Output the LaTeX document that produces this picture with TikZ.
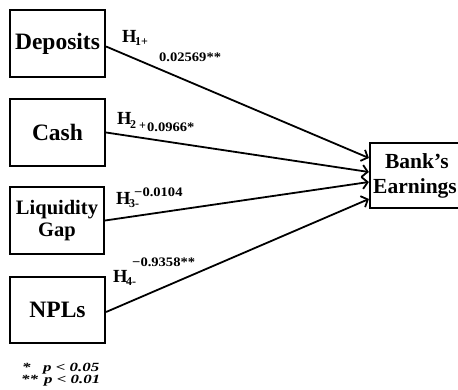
\documentclass[tikz,border=0pt]{standalone}
\usepackage{fontspec}
\setmainfont{Liberation Serif}
\newfontfamily\valfont[FakeStretch=1.12]{Liberation Serif}
\newfontfamily\notefont[FakeStretch=1.35]{Liberation Serif}
\usetikzlibrary{arrows.meta}
\begin{document}
\begin{tikzpicture}[x=1pt,y=-1pt,
 box/.style={draw,line width=2.2pt,minimum width=95pt,minimum height=67pt,inner sep=0pt,align=center,font=\fontsize{23.5}{24}\selectfont\bfseries},
 link/.style={line width=1.8pt,-{Straight Barb[length=5.5pt,width=12pt,line width=1.8pt]}},
 hlab/.style={anchor=base west,inner sep=0pt,font=\fontsize{18.5}{18}\selectfont\bfseries},
 slab/.style={anchor=base west,inner sep=0pt,font=\fontsize{12}{12}\selectfont\bfseries},
 vlab/.style={anchor=base west,inner sep=0pt,font=\valfont\fontsize{13}{13}\selectfont\bfseries},
 note/.style={anchor=base west,inner sep=0pt,font=\notefont\fontsize{12.5}{12.5}\selectfont\bfseries\itshape}]
\useasboundingbox (0,0) rectangle (458,390);
\node[box] (dep) at (57.5,43.5) {Deposits};
\node[box] (cash) at (57.5,132.5) {Cash};
\node[box,minimum width=94pt,font=\fontsize{20.5}{22}\selectfont\bfseries] (liq) at (57,220.5) {Liquidity\\Gap};
\node[box,minimum height=66pt] (npl) at (57.5,310) {NPLs};
\node[box,minimum width=94pt,minimum height=65pt,font=\fontsize{21.5}{26}\selectfont\bfseries] (bank) at (417,175.5) {Bank’s\\[-1pt]\hspace*{-4pt}Earnings};
\coordinate (t1) at ([yshift=17.5pt]bank.west);
\coordinate (t2) at ([yshift=3.5pt]bank.west);
\coordinate (t3) at ([yshift=-6.5pt]bank.west);
\coordinate (t4) at ([yshift=-23.5pt]bank.west);
\draw[link] ([yshift=-3pt]dep.east) -- (t1);
\draw[link] (cash.east) -- (t2);
\draw[link] (liq.east) -- (t3);
\draw[link] ([yshift=-2pt]npl.east) -- (t4);
% labels
\node[hlab] (h1) at (122,43) {H};
\node[slab] (h1s) at (135,46) {1+};
\node[vlab] (v1) at (159,62) {0.02569**};
\node[hlab] (h2) at (117,125) {H};
\node[slab] (h2s) at (130,128.5) {2};
\node[slab] (h2p) at (139,130) {+};
\node[vlab] (v2) at (147,132) {0.0966*};
\node[hlab] (h3) at (116,205) {H};
\node[slab] (h3s) at (129,208) {3-};
\node[vlab] (v3) at (134,197) {−0.0104};
\node[hlab] (h4) at (113,283) {H};
\node[slab] (h4s) at (126,285) {4-};
\node[vlab] (v4) at (132,267) {−0.9358**};
% notes
\node[note] (n1a) at (22,371) {*};
\node[note] (n1b) at (43,371) {p < 0.05};
\node[note] (n2a) at (21,383) {**};
\node[note] (n2b) at (44,383) {p < 0.01};
\end{tikzpicture}
\end{document}
